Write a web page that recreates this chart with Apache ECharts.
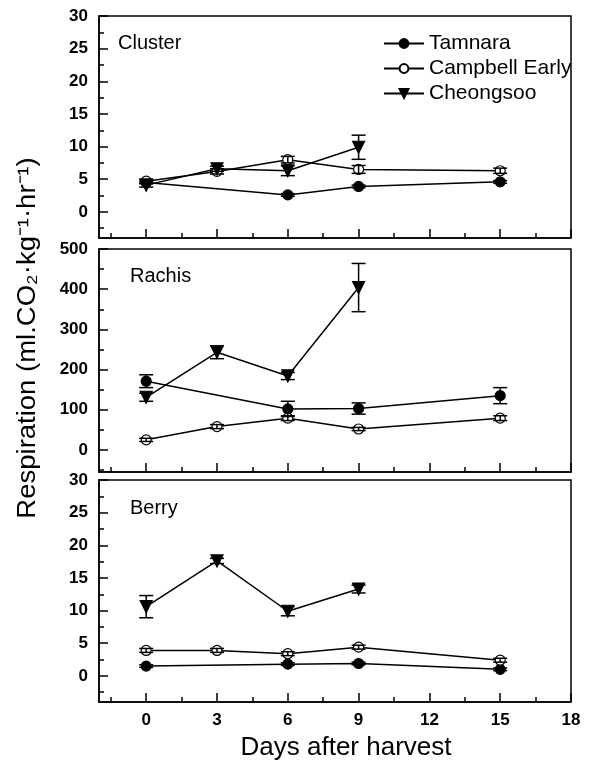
<!DOCTYPE html>
<html>
<head>
<meta charset="utf-8">
<script src="https://cdn.jsdelivr.net/npm/echarts@6/dist/echarts.min.js"></script>
<style>
  html, body { margin: 0; padding: 0; background: #fff; }
  #chart { width: 598px; height: 769px; }
</style>
</head>
<body>
<div id="chart"></div>
<script>
// days after harvest
const days = [0, 3, 6, 9, 15];
const varieties = ['Tamnara', 'Campbell Early', 'Cheongsoo'];
const panelNames = ['Cluster', 'Rachis', 'Berry'];

// Cluster
const clusterTamnara = [4.5, null, 2.6, 3.9, 4.6];
const clusterTamnaraErr = [0.2, 0, 0.2, 0.2, 0.2];
const clusterCampbell = [4.7, 6.2, 8.0, 6.5, 6.3];
const clusterCampbellErr = [0.3, 0.4, 0.5, 0.6, 0.4];
const clusterCheongsoo = [4.1, 6.6, 6.3, 9.9];
const clusterCheongsooErr = [0.3, 0.4, 0.75, 1.85];

// Rachis
const rachisTamnara = [171, null, 102, 103, 135];
const rachisTamnaraErr = [16, 0, 19, 14, 20];
const rachisCampbell = [25, 58, 79, 52, 79];
const rachisCampbellErr = [4, 5, 6, 4, 6];
const rachisCheongsoo = [131, 243, 184, 404];
const rachisCheongsooErr = [10, 16, 9, 60];

// Berry
const berryTamnara = [1.5, null, 1.8, 1.9, 1.0];
const berryTamnaraErr = [0.2, 0, 0.2, 0.2, 0.2];
const berryCampbell = [3.9, 3.9, 3.4, 4.4, 2.4];
const berryCampbellErr = [0.3, 0.3, 0.3, 0.3, 0.3];
const berryCheongsoo = [10.6, 17.6, 9.9, 13.3];
const berryCheongsooErr = [1.7, 0.4, 0.7, 0.6];

// ticks
const xTicks = [0, 3, 6, 9, 12, 15, 18];
const xMinor = [-1.5, 1.5, 4.5, 7.5, 10.5, 13.5, 16.5];
const yTicksSmall = [0, 5, 10, 15, 20, 25, 30];
const yMinorSmall = [-2.5, 2.5, 7.5, 12.5, 17.5, 22.5, 27.5];
const yTicksBig = [0, 100, 200, 300, 400, 500];
const yMinorBig = [-50, 50, 150, 250, 350, 450];

const FONT = 'Liberation Sans, Arial, sans-serif';

const panels = [
    { top: 16, height: 222, min: -4, max: 30, ticks: yTicksSmall, minor: yMinorSmall,
      vals: [clusterTamnara, clusterCampbell, clusterCheongsoo],
      errs: [clusterTamnaraErr, clusterCampbellErr, clusterCheongsooErr] },
    { top: 249, height: 223, min: -55, max: 500, ticks: yTicksBig, minor: yMinorBig,
      vals: [rachisTamnara, rachisCampbell, rachisCheongsoo],
      errs: [rachisTamnaraErr, rachisCampbellErr, rachisCheongsooErr] },
    { top: 480, height: 222, min: -4, max: 30, ticks: yTicksSmall, minor: yMinorSmall,
      vals: [berryTamnara, berryCampbell, berryCheongsoo],
      errs: [berryTamnaraErr, berryCampbellErr, berryCheongsooErr] },
];

const markers = [
    { symbol: 'circle', symbolSize: 10, fill: '#000', rotate: 0 },
    { symbol: 'circle', symbolSize: 10, fill: '#fff', rotate: 0 },
    { symbol: 'triangle', symbolSize: 12, fill: '#000', rotate: 180 },
];

const grids = [], xAxes = [], yAxes = [], series = [];

panels.forEach((p, i) => {
    grids.push({
        left: 99, right: 27, top: p.top, height: p.height,
        show: true, borderColor: '#000', borderWidth: 1.5, backgroundColor: 'transparent',
    });
    // major x
    xAxes.push({
        type: 'value', gridIndex: i, min: -2, max: 18, position: 'bottom',
        axisLine: { show: true, onZero: false, lineStyle: { color: '#000', width: 1.5 } },
        axisTick: { show: true, inside: true, length: 9, customValues: xTicks, lineStyle: { color: '#000', width: 1.5 } },
        axisLabel: {
            show: i === 2, customValues: xTicks, margin: 10,
            color: '#000', fontFamily: FONT, fontSize: 17, fontWeight: 'bold',
        },
        splitLine: { show: false },
    });
    // minor x
    xAxes.push({
        type: 'value', gridIndex: i, min: -2, max: 18, position: 'bottom', offset: 0,
        axisLine: { show: false, onZero: false },
        axisTick: { show: true, inside: true, length: 5, customValues: xMinor, lineStyle: { color: '#000', width: 1.5 } },
        axisLabel: { show: false },
        splitLine: { show: false },
    });
    // major y
    yAxes.push({
        type: 'value', gridIndex: i, min: p.min, max: p.max, position: 'left',
        axisLine: { show: true, onZero: false, lineStyle: { color: '#000', width: 1.5 } },
        axisTick: { show: true, inside: true, length: 9, customValues: p.ticks, lineStyle: { color: '#000', width: 1.5 } },
        axisLabel: {
            customValues: p.ticks, margin: 11,
            color: '#000', fontFamily: FONT, fontSize: 17, fontWeight: 'bold',
        },
        splitLine: { show: false },
    });
    // minor y
    yAxes.push({
        type: 'value', gridIndex: i, min: p.min, max: p.max, position: 'left', offset: 0,
        axisLine: { show: false, onZero: false },
        axisTick: { show: true, inside: true, length: 5, customValues: p.minor, lineStyle: { color: '#000', width: 1.5 } },
        axisLabel: { show: false },
        splitLine: { show: false },
    });

    p.vals.forEach((vals, k) => {
        const m = markers[k];
        const data = vals.map((v, j) => [days[j], v == null ? '-' : v]);
        series.push({
            name: varieties[k],
            type: 'line',
            xAxisIndex: 2 * i, yAxisIndex: 2 * i,
            data: data,
            connectNulls: true,
            symbol: m.symbol,
            symbolSize: m.symbolSize,
            symbolRotate: m.rotate,
            showAllSymbol: true,
            itemStyle: { color: m.fill, borderColor: '#000', borderWidth: 1.2 },
            lineStyle: { color: '#000', width: 1.5 },
            z: 3,
            animation: false,
        });
        // error bars
        const errData = [];
        vals.forEach((v, j) => {
            const e = p.errs[k][j];
            if (v != null && e) errData.push([days[j], v - e, v + e]);
        });
        series.push({
            type: 'custom',
            xAxisIndex: 2 * i, yAxisIndex: 2 * i,
            data: errData,
            z: 4,
            animation: false,
            renderItem: (params, api) => {
                const lo = api.coord([api.value(0), api.value(1)]);
                const hi = api.coord([api.value(0), api.value(2)]);
                const w = 7;
                const style = { stroke: '#000', lineWidth: 1.5 };
                return {
                    type: 'group',
                    children: [
                        { type: 'line', shape: { x1: lo[0], y1: lo[1], x2: hi[0], y2: hi[1] }, style },
                        { type: 'line', shape: { x1: lo[0] - w, y1: lo[1], x2: lo[0] + w, y2: lo[1] }, style },
                        { type: 'line', shape: { x1: hi[0] - w, y1: hi[1], x2: hi[0] + w, y2: hi[1] }, style },
                    ],
                };
            },
        });
    });
});

const myChart = echarts.init(document.getElementById('chart'));
myChart.setOption({
    animation: false,
    textStyle: { fontFamily: FONT },
    legend: {
        data: varieties,
        orient: 'vertical',
        left: 378, top: 28,
        itemWidth: 40, itemHeight: 11, itemGap: 4,
        textStyle: { fontSize: 21, color: '#000', fontFamily: FONT },
    },
    grid: grids,
    xAxis: xAxes,
    yAxis: yAxes,
    graphic: [
        { type: 'text', left: 118, top: 33, style: { text: panelNames[0], font: '20px ' + FONT, fill: '#000' } },
        { type: 'text', left: 130, top: 266, style: { text: panelNames[1], font: '20px ' + FONT, fill: '#000' } },
        { type: 'text', left: 130, top: 498, style: { text: panelNames[2], font: '20px ' + FONT, fill: '#000' } },
        {
            type: 'text', x: 28, y: 338, rotation: Math.PI / 2, scaleX: 1.1,
            style: {
                text: 'Respiration (ml.CO₂·kg⁻¹·hr⁻¹)',
                font: '25px ' + FONT, fill: '#000',
                align: 'center', verticalAlign: 'middle',
            },
        },
        {
            type: 'text', x: 346, y: 748,
            style: {
                text: 'Days after harvest',
                font: '26px ' + FONT, fill: '#000',
                align: 'center', verticalAlign: 'middle',
            },
        },
    ],
    series: series,
});
</script>
</body>
</html>
